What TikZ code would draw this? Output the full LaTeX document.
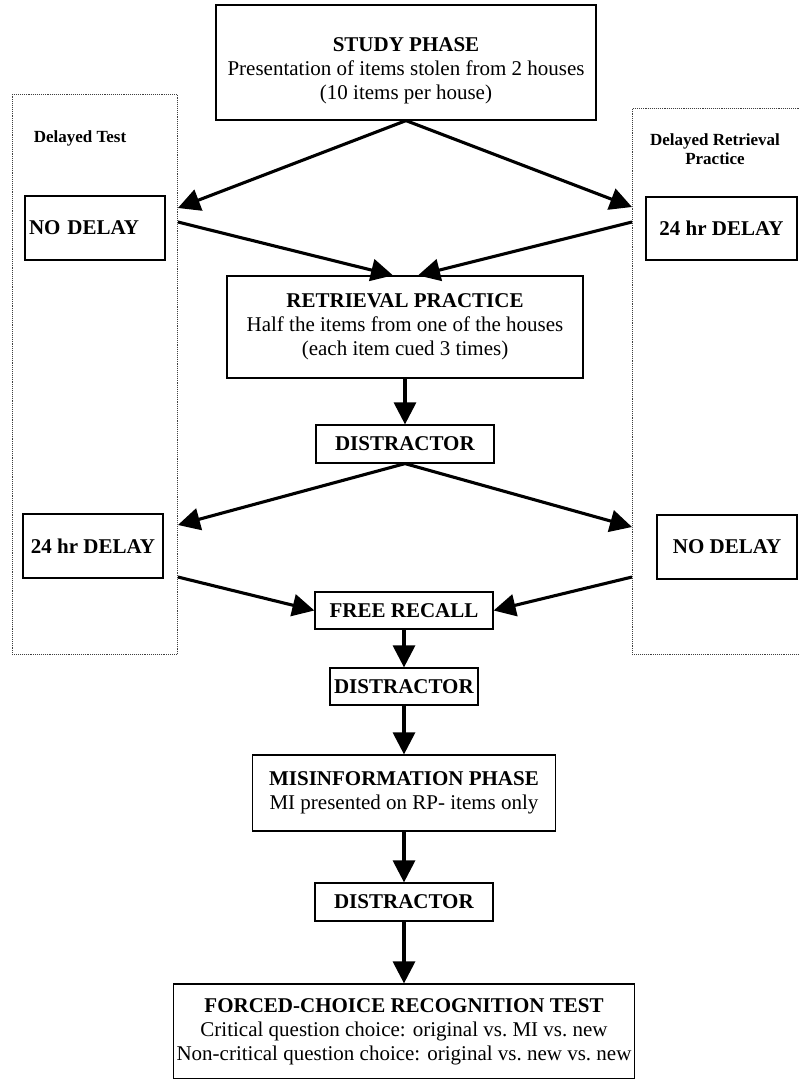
\documentclass[tikz,border=0pt]{standalone}
\usepackage{fontspec}
\setmainfont{Liberation Serif}
\usepackage{tikz}
\usetikzlibrary{positioning}
\usetikzlibrary{arrows.meta,shapes}
\usetikzlibrary{calc}
\newcommand{\boxfont}{\fontsize{21}{24}\selectfont}
\newcommand{\groupfont}{\fontsize{17}{19}\selectfont\bfseries}
\tikzstyle{stage}=[rectangle,draw,line width=1.2pt,inner sep=3pt,align=center,font=\boxfont]
\tikzstyle{group}=[rectangle,draw=black!75,densely dotted,line width=0.9pt,anchor=north west,inner sep=0pt]
\tikzstyle{grouplabel}=[align=center,font=\groupfont,inner sep=0pt]
\tikzstyle{edge} = [draw,line width=3.1pt,-{Triangle[length=22pt,width=22pt]}]

\begin{document}
\begin{tikzpicture}[x=1pt,y=-1pt]
    \useasboundingbox (0,0) rectangle (798,1079);
    % the two dotted groups at the sides
    \node[group,minimum width=165pt,minimum height=560pt] (testgrp) at (12,94) {};
    \node[group,minimum width=180pt,minimum height=546pt] (rpgrp) at (632,108) {};
    \node[grouplabel] (testlbl) at (80,138) {Delayed Test};
    \node[grouplabel] (rplbl) at (715,149) {Delayed Retrieval\\Practice};

    % the boxes with more than one line
    \node[stage,minimum width=380pt,minimum height=115pt] (study) at (406,62.5)
        {\rule{0pt}{30pt}\textbf{STUDY PHASE}\\Presentation of items stolen from 2 houses\\(10 items per house)};
    \node[stage,minimum width=356pt,minimum height=102pt] (retr) at (405,327)
        {\textbf{RETRIEVAL PRACTICE}\\Half the items from one of the houses\\(each item cued 3 times)};
    \node[stage,minimum width=303pt,minimum height=76pt] (mi) at (404,793)
        {\textbf{MISINFORMATION PHASE}\\MI presented on RP- items only};
    \node[stage,minimum width=457pt,minimum height=95pt] (forced) at (404,1031.5)
        {\textbf{FORCED-CHOICE RECOGNITION TEST}\\Critical question choice: original vs.\ MI vs.\ new\\Non-critical question choice: original vs.\ new vs.\ new};

    % the one-line boxes
    \node[stage,minimum width=140pt,minimum height=64pt,text width=132pt,align=left] (nodelayL) at (95,228) {\textbf{NO DELAY}};
    \foreach \pos/\name/\w/\h/\label in {{(721.5,228.5)/delayR/151/63/24 hr DELAY},
    {(93,546)/delayL/140/64/24 hr DELAY}, {(727,547)/nodelayR/140/64/NO DELAY},
    {(405,444)/dist1/178/38/DISTRACTOR}, {(404,610.5)/frecall/178/37/FREE RECALL},
    {(404,686.5)/dist2/148/37/DISTRACTOR}, {(404,902)/dist3/178/38/DISTRACTOR}}
        \node[stage,minimum width=\w pt,minimum height=\h pt] (\name) at \pos {\textbf{\label}};

    % where the arrows meet the dotted groups
    \coordinate (inL1) at (testgrp.east |- 0,208);
    \coordinate (outL1) at (testgrp.east |- 0,222);
    \coordinate (inR1) at (rpgrp.west |- 0,207);
    \coordinate (outR1) at (rpgrp.west |- 0,222);
    \coordinate (inL2) at (testgrp.east |- 0,525);
    \coordinate (outL2) at (testgrp.east |- 0,577);
    \coordinate (inR2) at (rpgrp.west |- 0,527);
    \coordinate (outR2) at (rpgrp.west |- 0,577);
    \coordinate (rpinL) at ([xshift=-12pt]retr.north);
    \coordinate (rpinR) at ([xshift=13pt]retr.north);

    % Connect the boxes
    \foreach \source/\dest in {study.south/inL1, study.south/inR1, outL1/rpinL, outR1/rpinR,
    retr.south/dist1.north, dist1.south/inL2, dist1.south/inR2, outL2/frecall.west,
    outR2/frecall.east, frecall.south/dist2.north, dist2.south/mi.north,
    mi.south/dist3.north, dist3.south/forced.north}
        \path[edge] (\source) -- (\dest);
\end{tikzpicture}
\end{document}
